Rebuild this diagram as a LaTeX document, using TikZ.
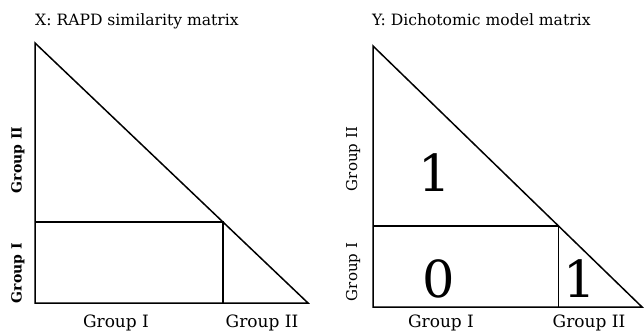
\documentclass[tikz,border=0pt]{standalone}
\usepackage{fontspec}
\setmainfont{DejaVu Serif}
\usetikzlibrary{positioning,calc}

\begin{document}
\begin{tikzpicture}[x=1pt,y=-1pt]
  % Styles
  \tikzstyle{frame} = [line width=1.5pt, line join=miter]
  \tikzstyle{split} = [line width=1.2pt]
  \tikzstyle{title} = [anchor=base west, inner sep=0pt, font=\fontsize{15.6}{18}\selectfont]
  \tikzstyle{group} = [inner sep=0pt, font=\fontsize{17}{20}\selectfont]
  \tikzstyle{vgroup} = [inner sep=0pt, rotate=90, font=\fontsize{15}{18}\selectfont]
  \tikzstyle{vbold} = [vgroup, font=\fontsize{14}{17}\selectfont\bfseries]
  \tikzstyle{digit} = [inner sep=0pt, font=\fontsize{51}{51}\selectfont]

  \useasboundingbox (0,0) rectangle (644,332);

  % Corners
  \coordinate (xtop) at (35,43);
  \coordinate (xbl) at (35,303);
  \coordinate (xbr) at (308,303);
  \coordinate (xmid) at ($(xtop)!0.6885!(xbr)$);
  \coordinate (ytop) at (373,46);
  \coordinate (ybl) at (373,307);
  \coordinate (ybr) at (642,307);
  \coordinate (ymid) at ($(ytop)!0.69!(ybr)$);

  % Titles
  \node [title] (xtitle) at (35,25) {X: RAPD similarity matrix};
  \node [title] (ytitle) at (372,25) {Y: Dichotomic model matrix};

  % Triangles
  \draw [frame] (xtop) -- (xbl) -- (xbr) -- cycle;
  \draw [split] (xbl |- xmid) -- (xmid) -- (xmid |- xbl);
  \draw [frame] (ytop) -- (ybl) -- (ybr) -- cycle;
  \draw [split] (ybl |- ymid) -- (ymid) -- (ymid |- ybl);

  % Group labels
  \node [group] (xg1) at (116,323) {Group I};
  \node [group] (xg2) at (262,323) {Group II};
  \node [vbold] (xv2) at (18,160) {Group II};
  \node [vbold] (xv1) at (18,273) {Group I};
  \node [group] (yg1) at (441,323) {Group I};
  \node [group] (yg2) at (589,323) {Group II};
  \node [vgroup] (yv2) at (353,159) {Group II};
  \node [vgroup] (yv1) at (353,272) {Group I};

  % Cell values
  \node [digit] (yupper) at (435,173) {1};
  \node [digit] (ylower) at (439,279) {0};
  \node [digit] (ycorner) at (580,279) {1};
\end{tikzpicture}
\end{document}
